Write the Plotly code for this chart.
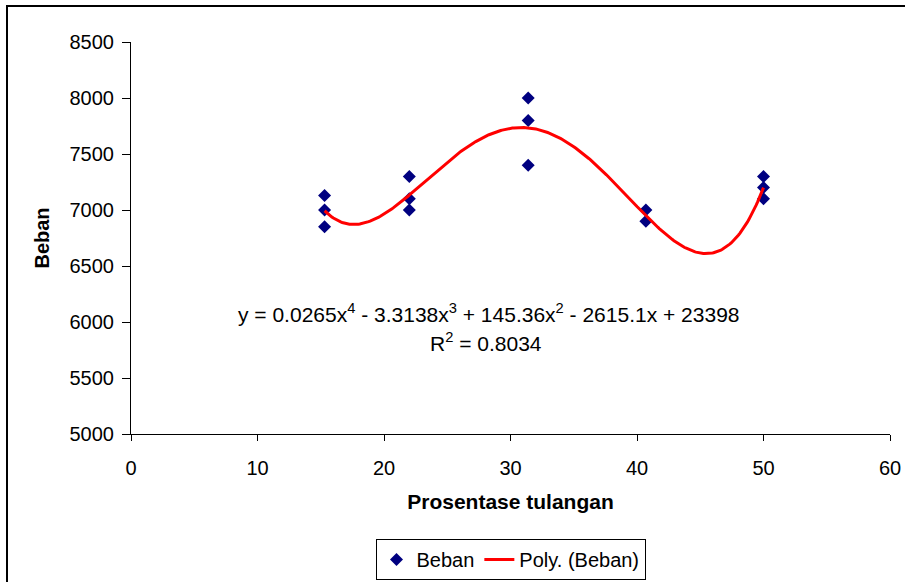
import numpy as np
import plotly.graph_objects as go

# Data
x_vals = [15.3, 15.3, 15.3, 22.0, 22.0, 22.0, 31.4, 31.4, 31.4, 40.7, 40.7, 50.0, 50.0, 50.0]
beban = [7130, 7000, 6850, 7300, 7100, 7000, 8000, 7800, 7400, 7000, 6900, 7300, 7200, 7100]

x_ticks = [0, 10, 20, 30, 40, 50, 60]
y_ticks = [5000, 5500, 6000, 6500, 7000, 7500, 8000, 8500]

equation_text = "y = 0.0265x<sup>4</sup> - 3.3138x<sup>3</sup> + 145.36x<sup>2</sup> - 2615.1x + 23398"
r2_text = "R<sup>2</sup> = 0.8034"

# Polynomial (order 4) trendline fitted from the data, as Excel does
coef = np.polyfit(x_vals, beban, 4)
xs = np.linspace(min(x_vals), max(x_vals), 300)
ys = np.polyval(coef, xs)

FONT = "Liberation Sans, Arial, sans-serif"

fig = go.Figure()
fig.add_trace(go.Scatter(
    x=x_vals, y=beban, mode="markers", name="Beban",
    marker=dict(symbol="diamond", size=10, color="#000080"),
))
fig.add_trace(go.Scatter(
    x=xs, y=ys, mode="lines", name="Poly. (Beban)",
    line=dict(color="#ff0000", width=3),
))

fig.update_layout(
    width=905, height=582,
    margin=dict(l=131, r=15, t=42, b=148, autoexpand=False),
    paper_bgcolor="white", plot_bgcolor="white",
    font=dict(family=FONT, size=20, color="black"),
    showlegend=True,
    legend=dict(
        orientation="h", x=0.5, xanchor="center",
        yref="container", y=1 - 539 / 582, yanchor="top",
        bordercolor="black", borderwidth=1, font=dict(size=20),
        itemwidth=30,
    ),
    xaxis=dict(
        range=[0, 60], tickvals=x_ticks, showgrid=False, zeroline=False,
        showline=True, linecolor="black", linewidth=1, automargin=False,
        ticks="outside", ticklen=6, tickcolor="black",
        ticklabelstandoff=10,
        title=dict(text="<b>Prosentase tulangan</b>", standoff=16, font=dict(size=21)),
    ),
    yaxis=dict(
        range=[5000, 8500], tickvals=y_ticks, showgrid=False, zeroline=False,
        showline=True, linecolor="black", linewidth=1, automargin=False,
        ticks="outside", ticklen=8, tickcolor="black",
        ticklabelstandoff=4,
        title=dict(text="<b>Beban</b>", standoff=14, font=dict(size=20)),
    ),
    annotations=[
        dict(x=0.4717, y=0.3087, xref="paper", yref="paper", text=equation_text,
             showarrow=False, font=dict(size=21), xanchor="center", yanchor="middle"),
        dict(x=0.4677, y=0.2347, xref="paper", yref="paper", text=r2_text,
             showarrow=False, font=dict(size=21), xanchor="center", yanchor="middle"),
    ],
    shapes=[
        dict(type="rect", xref="paper", yref="paper",
             x0=(7 - 131) / 759, x1=1.1, y0=-0.5, y1=(434 - 6) / 392,
             line=dict(color="black", width=2), fillcolor="rgba(0,0,0,0)", layer="below"),
    ],
)

fig.write_html("out.html")
